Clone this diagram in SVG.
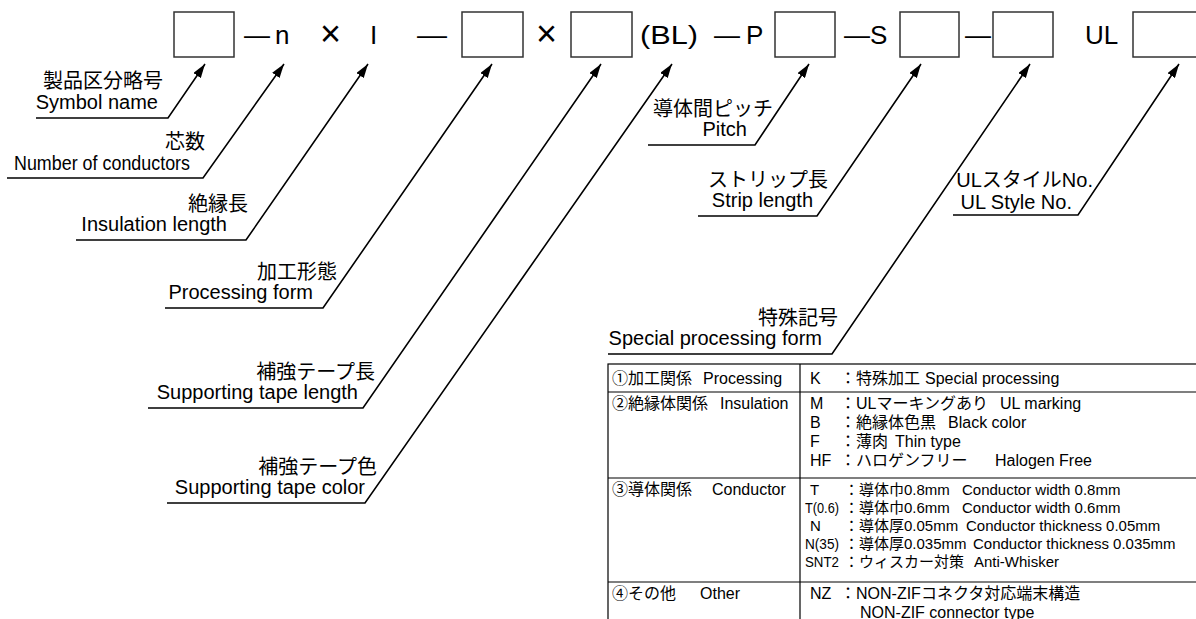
<svg xmlns="http://www.w3.org/2000/svg" width="1196" height="619" viewBox="0 0 1196 619">
<defs>
<style>
.t{font-family:"Liberation Sans","Noto Sans CJK JP",sans-serif;fill:#000}
.lab{font-size:20px}
.top{font-size:26px}
.x{font-size:36px}
.tb{font-size:16px}
.r3{font-size:15px}
.e{text-anchor:end}
.box{fill:#fff;stroke:#333;stroke-width:1.5}
.ln{fill:none;stroke:#000;stroke-width:1.6}
.grid{fill:none;stroke:#000;stroke-width:1.2}
</style>
<marker id="ah" viewBox="0 0 14 9" refX="14" refY="4.5" markerWidth="14" markerHeight="9" markerUnits="userSpaceOnUse" orient="auto"><path d="M0,0 L14,4.5 L0,9 z" fill="#000"/></marker>
</defs>
<rect width="1196" height="619" fill="#fff"/>

<g id="formula" class="t top">
<g id="box1"><rect class="box" x="174" y="12" width="60" height="45"/></g>
<text x="244" y="44">—</text>
<text x="275" y="44">n</text>
<text class="x" x="320" y="46">×</text>
<text x="370" y="44">I</text>
<text x="417" y="44" textLength="30" lengthAdjust="spacingAndGlyphs">—</text>
<g id="box2"><rect class="box" x="462" y="12" width="61" height="45"/></g>
<text class="x" x="536" y="46">×</text>
<g id="box3"><rect class="box" x="571" y="12" width="61" height="45"/></g>
<text x="640" y="44" textLength="58" lengthAdjust="spacingAndGlyphs">(BL)</text>
<text x="714" y="44">—</text>
<text x="746" y="44">P</text>
<g id="box4"><rect class="box" x="775" y="12" width="60" height="45"/></g>
<text x="844" y="44">—S</text>
<g id="box5"><rect class="box" x="900" y="12" width="59" height="45"/></g>
<text x="965" y="44">—</text>
<g id="box6"><rect class="box" x="993" y="12" width="60" height="45"/></g>
<text x="1085" y="44">UL</text>
<g id="box7"><rect class="box" x="1133" y="12" width="70" height="45"/></g>
</g>

<g id="connectors" class="ln">
<polyline points="36,118 168,118 205,64" marker-end="url(#ah)"/>
<polyline points="7,178 203,178 284,64" marker-end="url(#ah)"/>
<polyline points="76,240 246,240 368,64" marker-end="url(#ah)"/>
<polyline points="165,308 323,308 492,64" marker-end="url(#ah)"/>
<polyline points="148,408 363,408 601,64" marker-end="url(#ah)"/>
<polyline points="167,503 365,503 672,64" marker-end="url(#ah)"/>
<polyline points="648,145 755,145 809,64" marker-end="url(#ah)"/>
<polyline points="698,216 817,216 921,64" marker-end="url(#ah)"/>
<polyline points="608,354 832,354 1030,64" marker-end="url(#ah)"/>
<polyline points="953,215 1078,215 1179,64" marker-end="url(#ah)"/>
</g>

<g id="n-symbol" class="t lab e"><text x="163" y="88">製品区分略号</text><text x="158" y="109">Symbol name</text></g>
<g id="n-cores" class="t lab e"><text x="205" y="149">芯数</text><text x="190" y="170" textLength="176" lengthAdjust="spacingAndGlyphs">Number of conductors</text></g>
<g id="n-insulation" class="t lab e"><text x="248" y="211">絶縁長</text><text x="227" y="231">Insulation length</text></g>
<g id="n-processing" class="t lab e"><text x="337" y="279">加工形態</text><text x="313" y="299">Processing form</text></g>
<g id="n-tape-length" class="t lab e"><text x="375" y="379">補強テープ長</text><text x="358" y="399">Supporting tape length</text></g>
<g id="n-tape-color" class="t lab e"><text x="377" y="474">補強テープ色</text><text x="365" y="494">Supporting tape color</text></g>
<g id="n-pitch" class="t lab e"><text x="773" y="116">導体間ピッチ</text><text x="747" y="136">Pitch</text></g>
<g id="n-strip" class="t lab e"><text x="828" y="187">ストリップ長</text><text x="813" y="207">Strip length</text></g>
<g id="n-ulstyle" class="t lab e"><text x="1093" y="187">ULスタイルNo.</text><text x="1072" y="209">UL Style No.</text></g>
<g id="n-special" class="t lab e"><text x="838" y="325">特殊記号</text><text x="822" y="345">Special processing form</text></g>

<g id="table">
<g class="grid">
<rect x="608" y="364" width="600" height="270"/>
<line x1="800" y1="364" x2="800" y2="619"/>
<line x1="608" y1="392" x2="1196" y2="392"/>
<line x1="608" y1="478" x2="1196" y2="478"/>
<line x1="608" y1="582" x2="1196" y2="582"/>
</g>
<g class="t tb">
<text x="612" y="384">①加工関係</text><text x="703" y="384">Processing</text>
<text x="810" y="384">K</text><text x="840" y="384">：特殊加工</text><text x="925" y="384">Special processing</text>

<text x="612" y="409">②絶縁体関係</text><text x="720" y="409">Insulation</text>
<text x="810" y="409">M</text><text x="840" y="409">：ULマーキングあり</text><text x="1000" y="409">UL marking</text>
<text x="810" y="428">B</text><text x="840" y="428">：絶縁体色黒</text><text x="948" y="428">Black color</text>
<text x="810" y="447">F</text><text x="840" y="447">：薄肉</text><text x="895" y="447">Thin type</text>
<text x="810" y="466">HF</text><text x="840" y="466">：ハロゲンフリー</text><text x="995" y="466">Halogen Free</text>

<text x="612" y="495">③導体関係</text><text x="712" y="495">Conductor</text>
</g>
<g class="t r3">
<text x="810" y="495">T</text><text x="844" y="495">：導体巾0.8mm</text><text x="962" y="495">Conductor width 0.8mm</text>
<text x="805" y="513" textLength="34" lengthAdjust="spacingAndGlyphs">T(0.6)</text><text x="844" y="513">：導体巾0.6mm</text><text x="962" y="513">Conductor width 0.6mm</text>
<text x="810" y="531">N</text><text x="844" y="531">：導体厚0.05mm</text><text x="966" y="531">Conductor thickness 0.05mm</text>
<text x="805" y="549" textLength="34" lengthAdjust="spacingAndGlyphs">N(35)</text><text x="844" y="549">：導体厚0.035mm</text><text x="973" y="549">Conductor thickness 0.035mm</text>
<text x="805" y="567" textLength="34" lengthAdjust="spacingAndGlyphs">SNT2</text><text x="844" y="567">：ウィスカー対策</text><text x="974" y="567">Anti-Whisker</text>
</g>
<g class="t tb">
<text x="612" y="599">④その他</text><text x="700" y="599">Other</text>
<text x="810" y="599">NZ</text><text x="840" y="599">：NON-ZIFコネクタ対応端末構造</text>
<text x="860" y="618">NON-ZIF connector type</text>
</g>
</g>
</svg>
